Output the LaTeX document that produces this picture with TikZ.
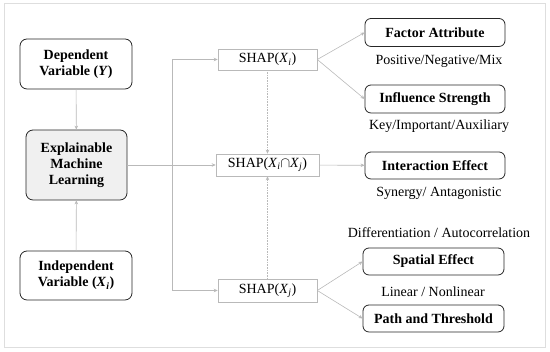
\documentclass[tikz,border=0pt]{standalone}
\usepackage{fontspec}
\setmainfont{Liberation Serif}
\usetikzlibrary{arrows.meta}
\definecolor{arrowgray}{RGB}{185,185,185}
\definecolor{framegray}{RGB}{222,222,222}
\definecolor{mlfill}{RGB}{240,240,240}
\newcommand{\svar}[2]{\textit{#1}\textsubscript{\textit{#2}}}
\tikzset{
  varbox/.style={draw=black!85,line width=0.8pt,rounded corners=7pt,align=center,
    font=\fontsize{14}{16}\selectfont\bfseries,inner sep=0pt},
  shapbox/.style={draw=arrowgray,line width=0.6pt,inner sep=0pt,
    font=\fontsize{14}{16}\selectfont},
  resbox/.style={draw=black!85,line width=0.8pt,rounded corners=6pt,inner sep=0pt,
    minimum width=140pt,minimum height=28pt,font=\fontsize{14}{16}\selectfont\bfseries},
  note/.style={font=\fontsize{14}{16}\selectfont},
  flow/.style={->,draw=arrowgray,line width=0.6pt},
}
\begin{document}
\begin{tikzpicture}[x=1pt,y=1pt,>={Stealth[length=4pt,width=3.5pt]}]
  \useasboundingbox (0,0) rectangle (550,352);
  \draw[framegray,line width=1pt] (4,4) rectangle (545,348);

  % left column
  \node[varbox,minimum width=112pt,minimum height=50pt] (dep) at (76,288) {Dependent\\Variable (\textit{Y})};
  \node[varbox,fill=mlfill,minimum width=101pt,minimum height=70pt] (xml) at (76.5,187) {Explainable\\Machine\\Learning};
  \node[varbox,minimum width=112pt,minimum height=49pt] (indep) at (76,76.5) {Independent\\Variable (\svar{X}{i})};

  % shap values
  \node[shapbox,minimum width=99pt,minimum height=21pt] (shapi) at (267.5,292.5) {SHAP(\svar{X}{i})};
  \node[shapbox,minimum width=103pt,minimum height=22pt] (shapij) at (267.5,187) {SHAP(\svar{X}{i}$\cap$\svar{X}{j})};
  \node[shapbox,minimum width=99pt,minimum height=23pt] (shapj) at (267.5,61.5) {SHAP(\svar{X}{j})};

  % results
  \node[resbox] (fa) at (435,319.5) {Factor Attribute};
  \node[note] (posneg) at (439,291) {Positive/Negative/Mix};
  \node[resbox] (infl) at (435,253) {Influence Strength};
  \node[note] (keyimp) at (439,226) {Key/Important/Auxiliary};
  \node[resbox,minimum height=27pt] (inter) at (435,186.5) {Interaction Effect};
  \node[note] (synant) at (439,159) {Synergy/ Antagonistic};
  \node[note] (diffauto) at (439,119) {Differentiation / Autocorrelation};
  \node[resbox,minimum width=141pt,minimum height=27pt] (spat) at (433.5,90.5) {Spatial Effect};
  \node[note] (linnon) at (433,60) {Linear / Nonlinear};
  \node[resbox,minimum width=141pt,minimum height=27pt] (path) at (433.5,33.5) {Path and Threshold};

  \coordinate (split) at (172,187);

  % connectors
  \draw[flow] (dep) -- (xml);
  \draw[flow] (indep) -- (xml);
  \draw[flow] (xml) -- (shapij);
  \draw[flow] (split) |- (shapi);
  \draw[flow] (split) |- (shapj);
  \draw[flow,densely dotted] (shapi) -- (shapij);
  \draw[flow,densely dotted] (shapj) -- (shapij);
  \draw[flow] (shapi.east) -- (fa.west);
  \draw[flow] (shapi.east) -- (infl.west);
  \draw[flow] (shapij) -- (inter);
  \draw[flow] (shapj.east) -- (spat.west);
  \draw[flow] (shapj.east) -- (path.west);
\end{tikzpicture}
\end{document}
